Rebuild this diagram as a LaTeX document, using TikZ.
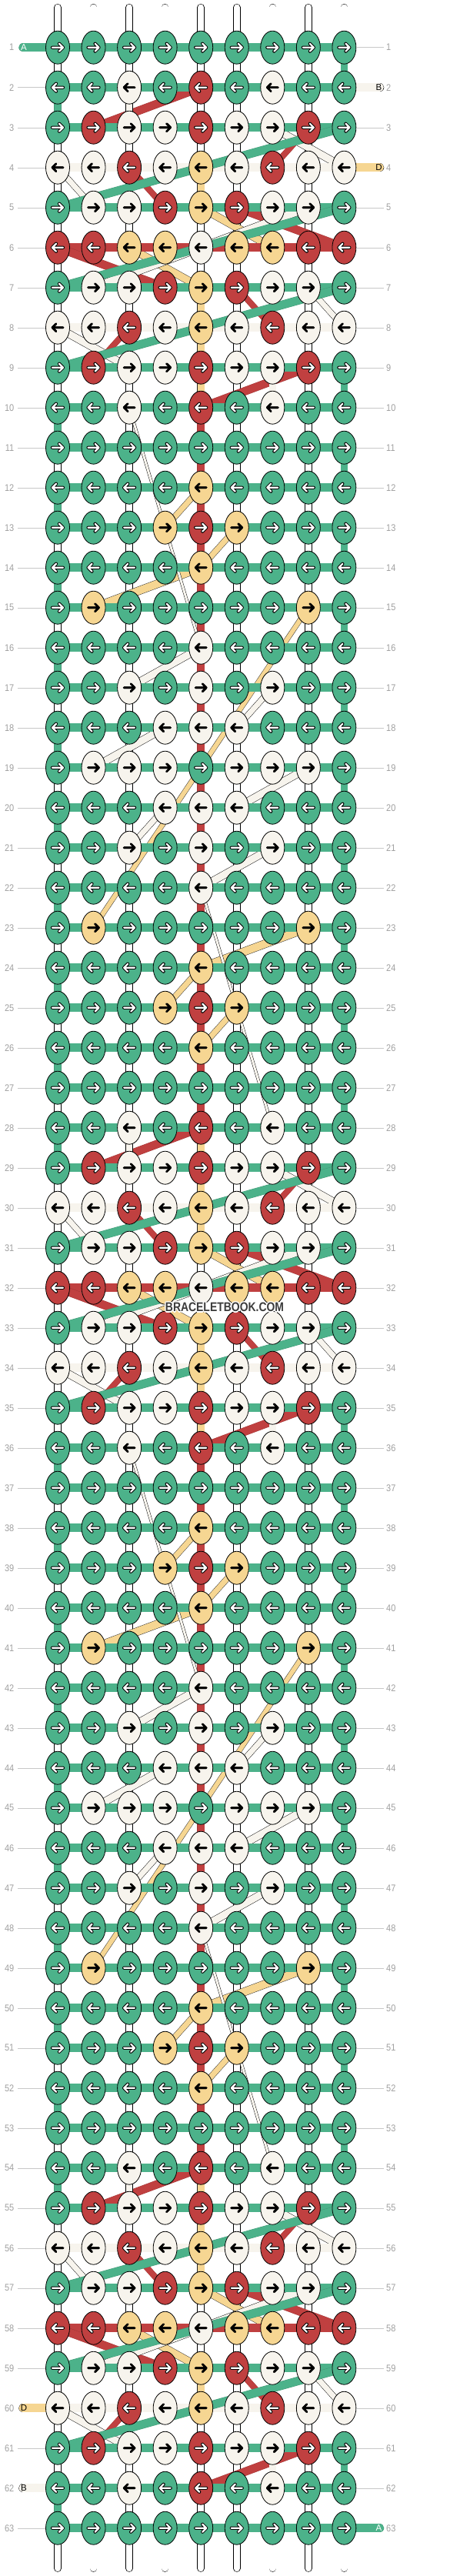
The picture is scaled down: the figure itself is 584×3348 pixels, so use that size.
\documentclass[tikz,border=0pt]{standalone}
\usepackage{fontspec}
\setmainfont{Liberation Sans}
\usepackage{graphicx}
\usetikzlibrary{shapes.geometric}
\definecolor{colG}{HTML}{4CB28A}
\definecolor{colR}{HTML}{C04040}
\definecolor{colW}{HTML}{F7F4ED}
\definecolor{colY}{HTML}{F6D692}
\colorlet{edgeG}{colG!85!black}
\colorlet{edgeR}{colR!85!black}
\colorlet{edgeW}{black}
\colorlet{edgeY}{black!85}
\definecolor{labgray}{HTML}{A0A0A0}
\definecolor{rulegray}{HTML}{C8C8C8}
\definecolor{wmgray}{HTML}{3C3C3C}
\pgfdeclarelayer{strings}
\pgfdeclarelayer{threads}
\pgfsetlayers{strings,threads,main}
\tikzset{
knot/.style={shape=ellipse, minimum width=31pt, minimum height=43pt, inner sep=0, draw=black, line width=0.8pt},
string/.style={draw=black, line width=0.6pt, double=white, double distance=8.4pt, line cap=round},
thr/.style={draw=edge#1, line width=0.45pt, double=col#1},
arroutG/.style={draw=black, line width=4.2pt, line cap=round, line join=round}, arrinG/.style={draw=white, line width=2.2pt, line cap=round, line join=round},
arroutR/.style={arroutG}, arrinR/.style={arrinG},
arroutW/.style={draw=black, line width=2.6pt, line cap=round, line join=round}, arrinW/.style={arroutW},
arroutY/.style={arroutW}, arrinY/.style={arroutW},
rowlab/.style={text=labgray, inner sep=0, font=\fontsize{12.5}{12.5}\selectfont},
tag/.style={inner sep=0, font=\fontsize{11.5}{11.5}\selectfont},
wmtext/.style={inner sep=0, font=\bfseries\fontsize{16.5}{16.5}\selectfont}}
% knot colours of one repeat (26 rows)
\newcommand\defrow[2]{\foreach \x [count=\n] in {#2}{\expandafter\xdef\csname kc-#1-\n\endcsname{\x}}}
\defrow{1}{G,G,G,G,G,G,G,G,G}
\defrow{2}{G,G,W,G,R,G,W,G,G}
\defrow{3}{G,R,W,W,R,W,W,R,G}
\defrow{4}{W,W,R,W,Y,W,R,W,W}
\defrow{5}{G,W,W,R,Y,R,W,W,G}
\defrow{6}{R,R,Y,Y,W,Y,Y,R,R}
\defrow{7}{G,W,W,R,Y,R,W,W,G}
\defrow{8}{W,W,R,W,Y,W,R,W,W}
\defrow{9}{G,R,W,W,R,W,W,R,G}
\defrow{10}{G,G,W,G,R,G,W,G,G}
\defrow{11}{G,G,G,G,G,G,G,G,G}
\defrow{12}{G,G,G,G,Y,G,G,G,G}
\defrow{13}{G,G,G,Y,R,Y,G,G,G}
\defrow{14}{G,G,G,G,Y,G,G,G,G}
\defrow{15}{G,Y,G,G,G,G,G,Y,G}
\defrow{16}{G,G,G,G,W,G,G,G,G}
\defrow{17}{G,G,W,G,W,G,W,G,G}
\defrow{18}{G,G,G,W,W,W,G,G,G}
\defrow{19}{G,W,W,W,G,W,W,W,G}
\defrow{20}{G,G,G,W,W,W,G,G,G}
\defrow{21}{G,G,W,G,W,G,W,G,G}
\defrow{22}{G,G,G,G,W,G,G,G,G}
\defrow{23}{G,Y,G,G,G,G,G,Y,G}
\defrow{24}{G,G,G,G,Y,G,G,G,G}
\defrow{25}{G,G,G,Y,R,Y,G,G,G}
\defrow{26}{G,G,G,G,Y,G,G,G,G}
\begin{document}
\begin{tikzpicture}[x=1pt, y=-1pt]
\useasboundingbox (0,0) rectangle (584,3348);
% knots, row numbers and rulers
\foreach \r in {1,...,63}{
  \pgfmathtruncatemacro\p{mod(\r-1,26)+1}
  \pgfmathsetmacro\yy{61.7+52*(\r-1)}
  \ifodd\r\relax \def\d{1}\else \def\d{-1}\fi
  \foreach \c in {1,...,9}{
    \edef\kc{\csname kc-\p-\c\endcsname}
    \node [knot, fill=col\kc] (k-\r-\c) at ({75+46.55*(\c-1)},\yy) {};
    \foreach \s in {out,in}
      \draw [arr\s\kc] (k-\r-\c.center) ++({-7*\d},0) -- ++({14*\d},0) ++({-5*\d},-5) -- ++({5*\d},5) -- ++({-5*\d},5);
  }
  \node [rowlab, anchor=east] (lab-l-\r) at (18.5,\yy) {\scalebox{0.88}[1]{\r}};
  \node [rowlab, anchor=west] (lab-r-\r) at (502,\yy) {\scalebox{0.88}[1]{\r}};
  \pgfmathtruncatemacro\nl{(\r==1)||(\r==60)||(\r==62)}
  \pgfmathtruncatemacro\nr{(\r==2)||(\r==4)||(\r==63)}
  \ifnum\nl=0 \draw [rulegray, shorten <=4.5pt] (lab-l-\r.east) -- (k-\r-1.west); \fi
  \ifnum\nr=0 \draw [rulegray, shorten <=3.5pt] (lab-r-\r.west) -- (k-\r-9.east); \fi
}
% vertical strings
\begin{pgfonlayer}{strings}
\foreach \c in {1,...,9}{
  \coordinate (s-top-\c) at ({75+46.55*(\c-1)},9.7);
  \coordinate (s-bot-\c) at ({75+46.55*(\c-1)},3338);
  \draw [string] (s-top-\c) -- (s-bot-\c);
}
\end{pgfonlayer}
% loose ends
\coordinate (a-in) at (30,61.7);
\coordinate (b-in) at (493.5,113.7);
\coordinate (d-in) at (493.5,217.7);
\coordinate (d-out) at (30,3129.7);
\coordinate (b-out) at (30,3233.7);
\coordinate (a-out) at (493.5,3285.7);
\node [tag, text=white] (t-a-in) at (31,61.7) {A};
\node [tag] (t-b-in) at (492.5,113.7) {B};
\node [tag] (t-d-in) at (492.5,217.7) {D};
\node [tag] (t-d-out) at (31,3129.7) {D};
\node [tag] (t-b-out) at (31,3233.7) {B};
\node [tag, text=white] (t-a-out) at (492.5,3285.7) {A};
\begin{pgfonlayer}{threads}
\draw [thr=G, double distance=10.6pt, line cap=round] (a-in) -- (k-1-1.center);
\draw [thr=W, double distance=10.6pt, line cap=round] (b-in) -- (k-2-7.center);
\draw [thr=Y, double distance=10.6pt, line cap=round] (d-in) -- (k-4-5.center);
\draw [thr=Y, double distance=10.6pt, line cap=round] (d-out) -- (k-60-5.center);
\draw [thr=W, double distance=10.6pt, line cap=round] (b-out) -- (k-62-3.center);
\draw [thr=G, double distance=10.6pt, line cap=round] (a-out) -- (k-63-9.center);
% each thread runs from knot to knot where it shows
\foreach \col in {Y,R,W,G}{
  \gdef\lastr{0}
  \foreach \r in {1,...,63}{
    \pgfmathtruncatemacro\p{mod(\r-1,26)+1}
    \foreach \i in {1,...,9}{
      \ifodd\r\relax \edef\c{\i}\else \pgfmathtruncatemacro\c{10-\i}\fi
      \edef\kc{\csname kc-\p-\c\endcsname}
      \ifx\kc\col
        \ifnum\lastr>0
          \pgfmathsetmacro\ww{\c==\lastc ? 8.6 : max(3, 10.6*abs(\c-\lastc)*46.55/veclen(46.55*(\c-\lastc),52*(\r-\lastr)))}
          \draw [thr=\col, double distance=\ww pt] (k-\lastr-\lastc.center) -- (k-\r-\c.center);
        \fi
        \xdef\lastr{\r}\xdef\lastc{\c}
      \fi
    }
  }
}
\end{pgfonlayer}
% watermark
\foreach \ox/\oy [count=\h] in {-1.3/0,1.3/0,0/-1.3,0/1.3,-1/-1,1/-1,-1/1,1/1}
  \node [wmtext, text=white] (wm-\h) at ({292+\ox},{1699+\oy}) {\scalebox{0.845}[1]{BRACELETBOOK.COM}};
\node [wmtext, text=wmgray] (wm) at (292,1699) {\scalebox{0.845}[1]{BRACELETBOOK.COM}};
\end{tikzpicture}
\end{document}
